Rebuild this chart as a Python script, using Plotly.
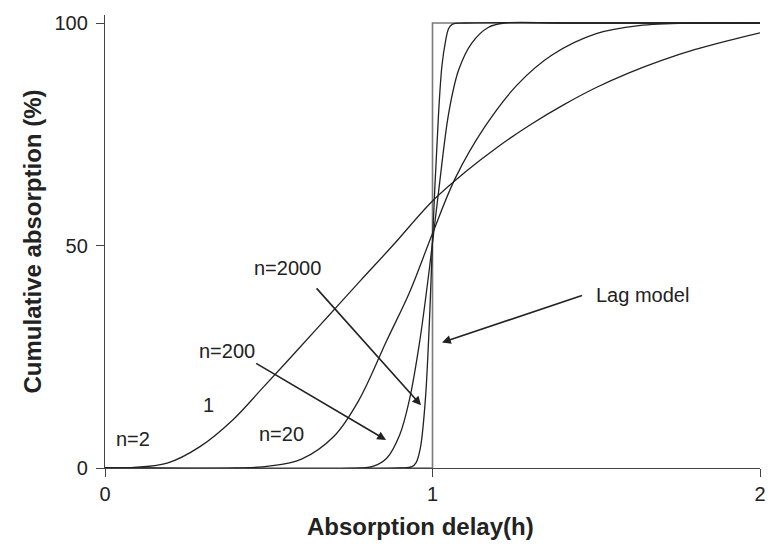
import plotly.graph_objects as go

# ---- data ----
n2_x = [0, 0.08, 0.19, 0.29, 0.39, 0.48, 0.58, 0.68, 0.78, 0.88, 1.0, 1.1, 1.2, 1.3, 1.4, 1.5, 1.6, 1.7, 1.8, 1.9, 2.0]
n2_y = [0, 0.1, 1.1, 4.8, 10.8, 17.9, 25.9, 34.0, 42.1, 50.1, 60.0, 66.5, 72.2, 77.2, 81.6, 85.5, 88.8, 91.6, 94.0, 96.0, 97.8]

n20_x = [0, 0.40, 0.50, 0.60, 0.70, 0.775, 0.86, 0.93, 1.0, 1.07, 1.16, 1.26, 1.365, 1.50, 1.63, 1.8, 2.0]
n20_y = [0, 0, 0.4, 2.0, 7.2, 15.2, 28.6, 39.5, 52.7, 65.2, 76.7, 86.2, 92.8, 97.6, 99.4, 100, 100]

n200_x = [0, 0.78, 0.82, 0.86, 0.90, 0.93, 0.96, 0.99, 1.02, 1.05, 1.08, 1.12, 1.17, 1.22, 1.4, 2.0]
n200_y = [0, 0, 0.4, 2.2, 7.5, 15.5, 28.0, 44.5, 63.0, 80.0, 89.5, 95.5, 99.0, 100, 100, 100]

n2000_x = [0, 0.90, 0.937, 0.95, 0.963, 0.978, 0.99, 1.0, 1.018, 1.029, 1.04, 1.049, 1.06, 1.1, 1.5, 2.0]
n2000_y = [0, 0, 0.3, 1.2, 4.5, 15.2, 32.0, 51.0, 79.0, 90.5, 96.0, 98.7, 99.7, 100, 100, 100]

lag_x = [0, 1, 1, 2]
lag_y = [0, 0, 100, 100]

x_ticks = [0, 1, 2]
y_ticks = [0, 50, 100]

labels = ["n=2", "1", "n=20", "n=200", "n=2000", "Lag model"]
label_x = [0.085, 0.317, 0.539, 0.374, 0.557, 1.641]
label_y = [6.5, 14.1, 7.6, 26.4, 45.0, 38.9]

# arrows: (tail_x, tail_y, head_x, head_y)
arrow_tail_x = [0.642, 0.457, 1.461]
arrow_tail_y = [40.7, 23.7, 38.9]
arrow_head_x = [0.965, 0.858, 1.029]
arrow_head_y = [14.1, 6.3, 28.2]

FONT = "Liberation Sans, Arial, sans-serif"
INK = "#222222"

fig = go.Figure()
fig.add_trace(go.Scatter(x=lag_x, y=lag_y, mode="lines",
                         line=dict(color="#7a7a7a", width=1.6), hoverinfo="skip"))
for xs, ys in [(n2_x, n2_y), (n20_x, n20_y), (n200_x, n200_y), (n2000_x, n2000_y)]:
    fig.add_trace(go.Scatter(x=xs, y=ys, mode="lines",
                             line=dict(color=INK, width=1.3, shape="spline", smoothing=1.0),
                             hoverinfo="skip"))

for t, x, y in zip(labels, label_x, label_y):
    fig.add_annotation(x=x, y=y, text=t, showarrow=False,
                       font=dict(family=FONT, size=20, color=INK))

for tx, ty, hx, hy in zip(arrow_tail_x, arrow_tail_y, arrow_head_x, arrow_head_y):
    fig.add_annotation(x=hx, y=hy, ax=tx, ay=ty, axref="x", ayref="y", xref="x", yref="y",
                       text="", showarrow=True, arrowhead=2, arrowsize=1.1,
                       arrowwidth=1.6, arrowcolor=INK)

# x-axis title (placed slightly left of centre, as in the reference)
fig.add_annotation(x=0.481, y=-0.13, xref="paper", yref="paper", xanchor="center", yanchor="middle",
                   text="<b>Absorption delay(h)</b>", showarrow=False,
                   font=dict(family=FONT, size=24, color=INK))

fig.update_layout(
    width=778, height=556,
    margin=dict(l=105, r=16, t=13, b=88),
    paper_bgcolor="white", plot_bgcolor="white",
    showlegend=False,
    font=dict(family=FONT, size=20, color=INK),
)

fig.update_xaxes(range=[0, 2], tickvals=x_ticks, ticks="outside", ticklen=8, tickwidth=1.3,
                 tickcolor="#444", showline=True, linecolor="#444", linewidth=1.3,
                 showgrid=False, zeroline=False, tickfont=dict(size=20))
fig.update_yaxes(range=[0, 101.8], tickvals=y_ticks, ticks="outside", ticklen=8, tickwidth=1.3,
                 tickcolor="#444", showline=True, linecolor="#444", linewidth=1.3,
                 showgrid=False, zeroline=False, tickfont=dict(size=20), ticklabelstandoff=4,
                 title=dict(text="<b>Cumulative absorption (%)</b>", font=dict(size=24), standoff=6))

fig.write_html("out.html")
